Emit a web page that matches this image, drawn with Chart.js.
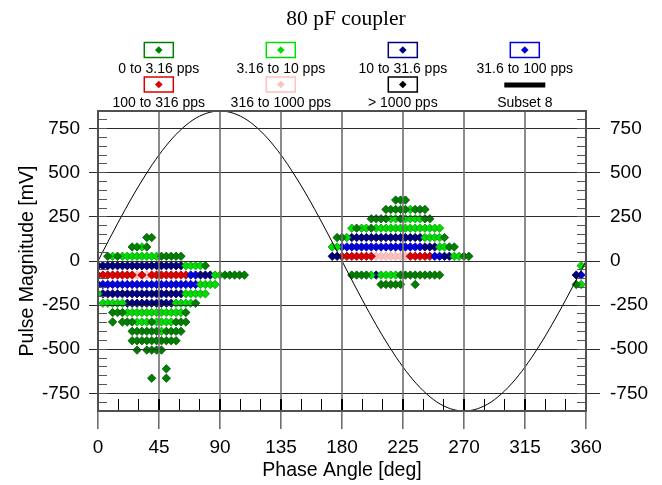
<!DOCTYPE html>
<html>
<head>
<meta charset="utf-8">
<script src="https://cdn.jsdelivr.net/npm/chart.js@4.4.0/dist/chart.umd.min.js"></script>
<style>
  html, body { margin: 0; padding: 0; background: #fff; }
  canvas { display: block; }
</style>
</head>
<body>
<canvas id="chart" width="662" height="485"></canvas>
<script>
const phaseTicks = [0, 45, 90, 135, 180, 225, 270, 315, 360];
const magnitudeTicks = [-750, -500, -250, 0, 250, 500, 750];

// bin sizes of the phase-resolved histogram
const PHASE_BIN = 3.6;    // deg
const MAG_BIN = 53.125;   // mV

const rateLabels = [
  "0 to 3.16 pps", "3.16 to 10 pps", "10 to 31.6 pps", "31.6 to 100 pps",
  "100 to 316 pps", "316 to 1000 pps", "> 1000 pps",
];
const rateColors = ["#008000", "#00dd00", "#000080", "#0000e0", "#dd0000", "#ffc0c0", "#000000"];
const rateEdges = ["#005500", "#009a00", "#000050", "#0000a0", "#a00000", "#e8a6a6", "#000000"];

// occupied cells: [magnitude row, first phase bin, last phase bin]
const rate0 = [
  [2, 10, 11], [1, 7, 8], [1, 10, 10], [0, 2, 2], [0, 4, 4], [0, 13, 17],
  [-1, 22, 22], [-2, 26, 30], [-5, 20, 20], [-6, 3, 5], [-6, 18, 18],
  [-7, 3, 3], [-7, 5, 7], [-7, 11, 11], [-7, 16, 18], [-8, 7, 12], [-8, 14, 17],
  [-9, 7, 16], [-10, 8, 8], [-10, 10, 13], [-12, 14, 14], [-13, 11, 11], [-13, 14, 14],
  [6, 61, 63], [5, 59, 63], [5, 65, 67], [4, 56, 59], [4, 62, 62], [4, 67, 68],
  [3, 53, 53], [3, 56, 56], [2, 49, 50], [2, 71, 71], [1, 72, 73], [0, 75, 76],
  [-2, 52, 55], [-2, 62, 70], [-3, 58, 62], [-3, 65, 65], [-3, 98, 98],
];
const rate1 = [
  [1, 9, 9], [0, 3, 3], [0, 5, 12], [-1, 18, 21], [-2, 24, 25], [-3, 21, 24],
  [-4, 0, 0], [-4, 18, 22], [-5, 1, 5], [-5, 16, 19], [-6, 6, 17],
  [-7, 8, 10], [-7, 12, 15], [-8, 13, 13],
  [5, 64, 64], [4, 60, 61], [4, 63, 66], [3, 52, 52], [3, 54, 55], [3, 57, 70],
  [2, 51, 51], [2, 67, 70], [1, 48, 49], [1, 70, 71], [0, 73, 74],
  [-2, 56, 56], [-2, 58, 61], [-1, 99, 99], [-3, 99, 99],
];
const rate2 = [
  [-1, 0, 17], [-2, 21, 23], [-4, 1, 17], [-5, 6, 15],
  [2, 52, 66], [1, 67, 69], [0, 48, 49], [0, 71, 72], [-2, 57, 57], [-2, 98, 98],
];
const rate3 = [[-2, 19, 20], [-3, 0, 20], [1, 50, 66], [0, 69, 70], [-2, 99, 99]];
const rate4 = [[-2, 0, 7], [-2, 9, 9], [-2, 11, 18], [0, 50, 56], [0, 64, 68]];
const rate5 = [[-2, 8, 8], [-2, 10, 10], [0, 57, 63]];
const rate6 = [];

// "Subset 8": reference sine
const curvePhase = [0, 10, 20, 30, 40, 50, 60, 70, 80, 90, 100, 110, 120, 130, 140, 150, 160, 170, 180,
  190, 200, 210, 220, 230, 240, 250, 260, 270, 280, 290, 300, 310, 320, 330, 340, 350, 360];
const curveMag = [0, 148, 291, 425, 546, 651, 736, 799, 837, 850, 837, 799, 736, 651, 546, 425, 291, 148, 0,
  -148, -291, -425, -546, -651, -736, -799, -837, -850, -837, -799, -736, -651, -546, -425, -291, -148, 0];

function cellsToPoints(runs) {
  const pts = [];
  runs.forEach(([row, from, to]) => {
    for (let b = from; b <= to; b++) {
      pts.push({ x: b * PHASE_BIN, y: (row + 0.5) * MAG_BIN });
    }
  });
  return pts;
}

const rateRuns = [rate0, rate1, rate2, rate3, rate4, rate5, rate6];
const datasets = rateRuns.map((runs, i) => ({
  type: "scatter",
  label: rateLabels[i],
  data: cellsToPoints(runs),
  pointStyle: "rectRot",
  pointRadius: 4.2,
  pointBorderWidth: 0.8,
  pointBackgroundColor: rateColors[i],
  pointBorderColor: rateEdges[i],
  backgroundColor: rateColors[i],
  borderColor: rateColors[i],
  showLine: false,
  clip: 0,
  order: 1,
}));
datasets.push({
  type: "line",
  label: "Subset 8",
  data: curvePhase.map((p, i) => ({ x: p, y: curveMag[i] })),
  borderColor: "#000",
  borderWidth: 1,
  pointRadius: 0,
  cubicInterpolationMode: "monotone",
  fill: false,
  order: 0,
});

const sansFont = '"Liberation Sans", Arial, sans-serif';
const tickFont = { family: sansFont, size: 19 };
const axisTitleFont = { family: sansFont, size: 19.5 };

function align(px, width) {
  const half = width / 2;
  return Math.round(px - half) + half;
}

// grid drawn over the markers, plus frame and inner minor ticks
const gridOver = {
  id: "gridOver",
  afterDatasetsDraw(chart) {
    const { ctx, chartArea: a, scales: { x, y } } = chart;
    ctx.save();
    ctx.beginPath();
    ctx.strokeStyle = "#2a2a2a";
    ctx.lineWidth = 1;
    magnitudeTicks.forEach((v) => {
      const py = align(y.getPixelForValue(v), 1);
      ctx.moveTo(a.left, py);
      ctx.lineTo(a.right, py);
    });
    ctx.stroke();

    ctx.beginPath();
    ctx.strokeStyle = "#6e6e6e";
    ctx.lineWidth = 1.6;
    phaseTicks.forEach((v) => {
      const px = align(x.getPixelForValue(v), 2);
      ctx.moveTo(px, a.top);
      ctx.lineTo(px, a.bottom);
    });
    ctx.stroke();

    // minor ticks: every 50 mV on both sides, every 15 deg along the bottom
    ctx.beginPath();
    ctx.strokeStyle = "#555";
    ctx.lineWidth = 1;
    for (let v = y.min; v <= y.max; v += 50) {
      const py = align(y.getPixelForValue(v), 1);
      ctx.moveTo(a.left, py);
      ctx.lineTo(a.left + 9, py);
      ctx.moveTo(a.right, py);
      ctx.lineTo(a.right - 9, py);
    }
    ctx.stroke();
    ctx.beginPath();
    ctx.strokeStyle = "#000";
    for (let v = x.min; v <= x.max; v += 15) {
      if (v % 45 === 0) continue;
      const px = align(x.getPixelForValue(v), 1);
      ctx.moveTo(px, a.bottom);
      ctx.lineTo(px, a.bottom - 12);
    }
    ctx.stroke();
    ctx.beginPath();
    ctx.lineWidth = 2;
    phaseTicks.forEach((v) => {
      const px = align(x.getPixelForValue(v), 2);
      ctx.moveTo(px, a.bottom);
      ctx.lineTo(px, a.bottom - 12);
    });
    ctx.stroke();

    ctx.strokeStyle = "#505050";
    ctx.lineWidth = 2;
    ctx.strokeRect(align(a.left, 2), align(a.top, 2), Math.round(a.right - a.left), Math.round(a.bottom - a.top));
    ctx.restore();
  },
};

function diamond(ctx, cx, cy, r) {
  ctx.beginPath();
  ctx.moveTo(cx - r, cy);
  ctx.lineTo(cx, cy - r);
  ctx.lineTo(cx + r, cy);
  ctx.lineTo(cx, cy + r);
  ctx.closePath();
}

// title and the boxed two-row legend above the plot
const rateLegend = {
  id: "rateLegend",
  afterDraw(chart) {
    const { ctx } = chart;
    ctx.save();
    ctx.fillStyle = "#000";
    ctx.textAlign = "center";
    ctx.textBaseline = "middle";
    ctx.font = '21.5px "Liberation Serif", "Times New Roman", serif';
    ctx.fillText("80 pF coupler", 346, 19);

    ctx.font = `14px ${sansFont}`;
    ctx.textBaseline = "alphabetic";
    chart.data.datasets.forEach((ds, i) => {
      const col = i % 4;
      const row = Math.floor(i / 4);
      const cx = 158.8 + col * 122;
      const boxTop = row ? 77 : 42.5;
      if (ds.type === "line") {
        ctx.fillStyle = "#000";
        ctx.fillRect(cx - 20.5, 82.5, 41, 5);
      } else {
        ctx.strokeStyle = ds.pointBackgroundColor;
        ctx.lineWidth = 1.5;
        ctx.strokeRect(cx - 14.5, boxTop, 29, 15);
        diamond(ctx, cx, boxTop + 7.5, 3.8);
        ctx.fillStyle = ds.pointBackgroundColor;
        ctx.fill();
      }
      ctx.fillStyle = "#000";
      ctx.fillText(ds.label, cx, row ? 107 : 72.5);
    });
    ctx.restore();
  },
};

const yBase = {
  type: "linear",
  min: -850,
  max: 850,
  afterBuildTicks: (s) => { s.ticks = magnitudeTicks.map((v) => ({ value: v })); },
  border: { display: false },
};

new Chart(document.getElementById("chart"), {
  type: "scatter",
  data: { datasets },
  options: {
    responsive: false,
    animation: false,
    events: [],
    layout: { padding: { top: 111, left: 0, right: 0, bottom: 0 } },
    plugins: {
      legend: { display: false },
      tooltip: { enabled: false },
      title: { display: false },
    },
    scales: {
      x: {
        type: "linear",
        position: "bottom",
        min: 0,
        max: 360,
        afterBuildTicks: (s) => { s.ticks = phaseTicks.map((v) => ({ value: v })); },
        afterFit: (s) => { s.height = 74; },
        ticks: { color: "#000", font: tickFont, padding: 7, maxRotation: 0, autoSkip: false },
        grid: { drawOnChartArea: false, tickLength: 18, color: "#6e6e6e", lineWidth: 1.6 },
        border: { display: false },
        title: {
          display: true, text: "Phase Angle [deg]", color: "#000",
          font: axisTitleFont, padding: { top: 0, bottom: 3 },
        },
      },
      y: {
        ...yBase,
        position: "left",
        afterFit: (s) => { s.width = 98; },
        ticks: { color: "#000", font: tickFont, padding: 9 },
        grid: { drawOnChartArea: false, tickLength: 9, color: "#2a2a2a", lineWidth: 1 },
        title: {
          display: true, text: "Pulse Magnitude [mV]", color: "#000",
          font: axisTitleFont, padding: { top: 16, bottom: 0 },
        },
      },
      y2: {
        ...yBase,
        position: "right",
        afterFit: (s) => { s.width = 76; },
        ticks: { color: "#000", font: tickFont, padding: 10 },
        grid: { drawOnChartArea: false, tickLength: 14, color: "#2a2a2a", lineWidth: 1 },
      },
    },
  },
  plugins: [gridOver, rateLegend],
});
</script>
</body>
</html>
